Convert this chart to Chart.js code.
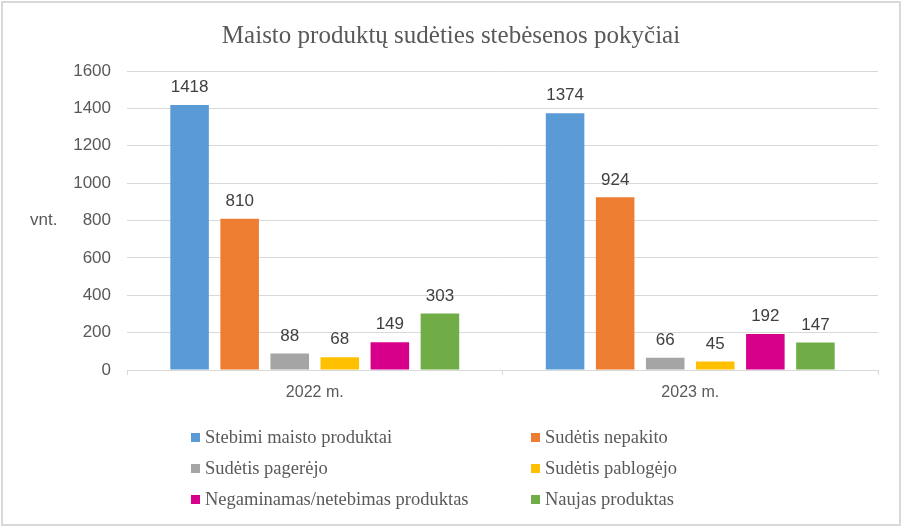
<!DOCTYPE html>
<html>
<head>
<meta charset="utf-8">
<script src="https://cdn.jsdelivr.net/npm/chart.js@4/dist/chart.umd.min.js"></script>
<style>
  html, body { margin: 0; padding: 0; background: #fff; }
  #wrap { position: relative; width: 902px; height: 527px; overflow: hidden; }
  #frame { position: absolute; left: 1px; top: 1px; width: 896px; height: 521px; border: 2px solid #d9d9d9; pointer-events: none; }
  #legend { position: absolute; left: 0; top: 0; font-family: "Liberation Serif", "Times New Roman", serif; font-size: 18.5px; color: #595959; }
  .item { position: absolute; white-space: nowrap; line-height: 20px; height: 20px; }
  .item span.box { position: absolute; left: 0; top: 6px; width: 9px; height: 9px; }
  .item span.txt { position: absolute; left: 14px; top: 0; }
</style>
</head>
<body>
<div id="wrap">
  <canvas id="myBarChart" width="902" height="527"></canvas>
  <div id="legend"></div>
  <div id="frame"></div>
</div>
<script>
const years = ["2022 m.", "2023 m."];
const seriesNames = ["Stebimi maisto produktai", "Sudėtis nepakito", "Sudėtis pagerėjo",
  "Sudėtis pablogėjo", "Negaminamas/netebimas produktas", "Naujas produktas"];
const stebimi = [1418, 1374];
const nepakito = [810, 924];
const pagerejo = [88, 66];
const pablogejo = [68, 45];
const negaminamas = [149, 192];
const naujas = [303, 147];
const yTicks = [0, 200, 400, 600, 800, 1000, 1200, 1400, 1600];
const colors = ["#5B9BD5", "#ED7D31", "#A5A5A5", "#FFC000", "#D6008B", "#70AD47"];

const allValues = [stebimi, nepakito, pagerejo, pablogejo, negaminamas, naujas];

const barData = {
  labels: years,
  datasets: allValues.map((vals, i) => ({
    label: seriesNames[i],
    data: vals,
    backgroundColor: colors[i],
    borderWidth: 0,
    barPercentage: 0.77,
    categoryPercentage: 0.8
  }))
};

// numbers above the bars
const valueLabels = {
  id: 'valueLabels',
  afterDatasetsDraw(chart) {
    const ctx = chart.ctx;
    ctx.save();
    ctx.font = '17px "Liberation Sans", Arial, sans-serif';
    ctx.fillStyle = '#404040';
    ctx.textAlign = 'center';
    ctx.textBaseline = 'bottom';
    chart.data.datasets.forEach((ds, i) => {
      chart.getDatasetMeta(i).data.forEach((bar, j) => {
        ctx.fillText(ds.data[j], bar.x, bar.y - 9);
      });
    });
    ctx.restore();
  }
};

// "vnt." next to the y axis
const unitLabel = {
  id: 'unitLabel',
  afterDraw(chart) {
    const ctx = chart.ctx;
    const y = chart.scales.y.getPixelForValue(800);
    ctx.save();
    ctx.font = '17px "Liberation Sans", Arial, sans-serif';
    ctx.fillStyle = '#595959';
    ctx.textAlign = 'left';
    ctx.textBaseline = 'middle';
    ctx.fillText('vnt.', 30, y);
    ctx.restore();
  }
};

const barConfig = {
  type: 'bar',
  data: barData,
  options: {
    responsive: false,
    animation: false,
    layout: { padding: { left: 24, right: 24, top: 0, bottom: 0 } },
    plugins: {
      legend: { display: false },
      tooltip: { enabled: false },
      title: {
        display: true,
        text: 'Maisto produktų sudėties stebėsenos pokyčiai',
        color: '#595959',
        font: { family: '"Liberation Serif", "Times New Roman", serif', size: 25, weight: 'normal' },
        padding: { top: 21, bottom: 20 }
      }
    },
    scales: {
      x: {
        grid: { offset: true, drawOnChartArea: false, color: '#d9d9d9', tickLength: 5 },
        border: { color: '#d9d9d9' },
        ticks: { color: '#595959', font: { family: '"Liberation Sans", Arial, sans-serif', size: 16 }, padding: 8 },
        afterFit(scale) { scale.height = 157; }
      },
      y: {
        min: 0,
        max: 1600,
        afterBuildTicks(scale) { scale.ticks = yTicks.map(v => ({ value: v })); },
        grid: { color: '#d9d9d9', drawTicks: false },
        border: { display: false },
        ticks: {
          color: '#595959',
          font: { family: '"Liberation Sans", Arial, sans-serif', size: 17 },
          padding: 16,
          callback: (v) => String(v)
        },
        afterFit(scale) { scale.width = 103; }
      }
    }
  },
  plugins: [valueLabels, unitLabel]
};

const myBarChart = new Chart(document.getElementById('myBarChart'), barConfig);

// legend in two columns, like the original
const legendEl = document.getElementById('legend');
const colX = [191, 531];
const rowY = [427, 458, 489];
seriesNames.forEach((name, i) => {
  const item = document.createElement('div');
  item.className = 'item';
  item.style.left = colX[i % 2] + 'px';
  item.style.top = rowY[Math.floor(i / 2)] + 'px';
  item.innerHTML = '<span class="box" style="background:' + colors[i] + '"></span><span class="txt">' + name + '</span>';
  legendEl.appendChild(item);
});
</script>
</body>
</html>
